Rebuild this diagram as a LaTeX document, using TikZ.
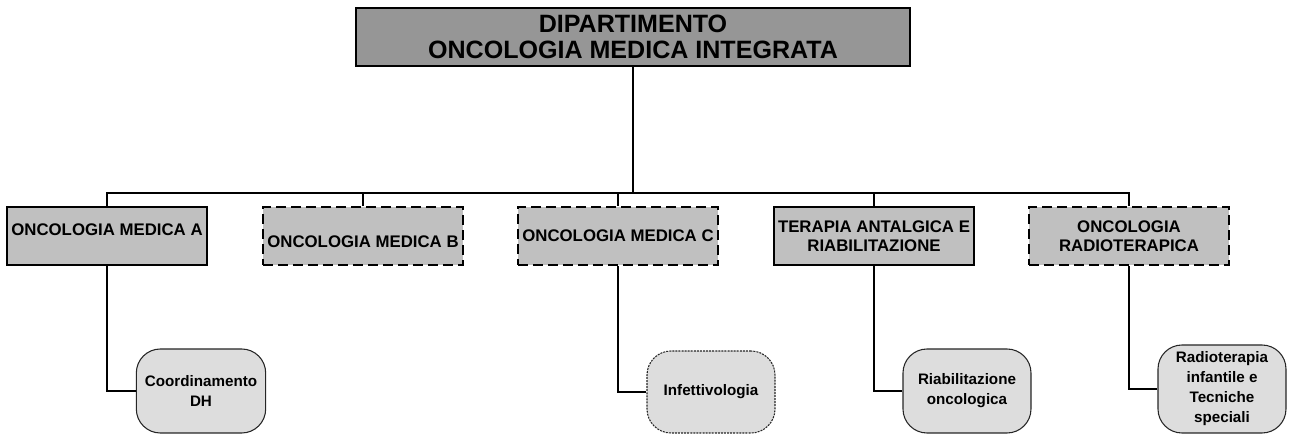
\documentclass[tikz,border=0pt]{standalone}
\usepackage{fontspec}
\setmainfont{Liberation Sans}
\definecolor{deptgray}{HTML}{969696}
\definecolor{unitgray}{HTML}{C0C0C0}
\definecolor{subgray}{HTML}{DDDDDD}
\begin{document}
\begin{tikzpicture}[x=0.75pt,y=-0.75pt,
    dept/.style={draw,line width=1.9pt,fill=deptgray,minimum width=415.5pt,
      minimum height=43.5pt,align=center,inner sep=1pt,
      font=\fontsize{18.8}{20}\selectfont\bfseries},
    unit/.style={draw,line width=1.5pt,fill=unitgray,minimum width=150pt,
      minimum height=43.5pt,align=center,inner sep=1pt,
      font=\fontsize{12.6}{14}\selectfont\bfseries},
    unitdash/.style={unit,dash pattern=on 7.5pt off 3.75pt},
    sub/.style={draw,line width=0.8pt,draw=black!85,fill=subgray,rounded corners=18pt,
      minimum width=97pt,minimum height=63pt,align=center,inner sep=2pt,
      font=\fontsize{11.4}{15}\selectfont\bfseries},
    subdash/.style={sub,dash pattern=on 1.5pt off 0.8pt}]
  \useasboundingbox (0,0) rectangle (1290,434);
  % department
  \node[dept] (dip) at (633,37) {DIPARTIMENTO\\ONCOLOGIA MEDICA INTEGRATA};
  % units
  \node[unit] (oma) at (107,236) {\raisebox{5pt}[\height][\depth]{ONCOLOGIA MEDICA A}};
  \node[unitdash] (omb) at (363,236) {\raisebox{-4.5pt}[\height][\depth]{ONCOLOGIA MEDICA B}};
  \node[unitdash] (omc) at (618,236) {ONCOLOGIA MEDICA C};
  \node[unit] (tar) at (874,236) {TERAPIA ANTALGICA E\\RIABILITAZIONE};
  \node[unitdash] (onr) at (1129,236) {ONCOLOGIA\\RADIOTERAPICA};
  % sub units
  \node[sub] (cdh) at (201,391) {Coordinamento\\DH};
  \node[subdash,minimum width=96pt,minimum height=61.5pt] (inf) at (711,392) {Infettivologia};
  \node[sub,minimum width=96pt] (rio) at (967,391) {Riabilitazione\\oncologica};
  \node[sub,minimum width=96pt,minimum height=66pt] (rit) at (1222,389)
    {Radioterapia\\infantile e\\Tecniche\\speciali};
  % connectors
  \coordinate (bus) at (633,193);
  \draw[line width=1.5pt] (dip) -- (bus);
  \foreach \u in {oma,omb,omc,tar,onr}
    \draw[line width=0.8pt] (bus) -| (\u.north);
  \begin{scope}[line width=0.8pt]
    \draw (oma) |- (cdh);
    \draw (omc) |- (inf);
    \draw (tar) |- (rio);
    \draw (onr) |- (rit);
  \end{scope}
\end{tikzpicture}
\end{document}
